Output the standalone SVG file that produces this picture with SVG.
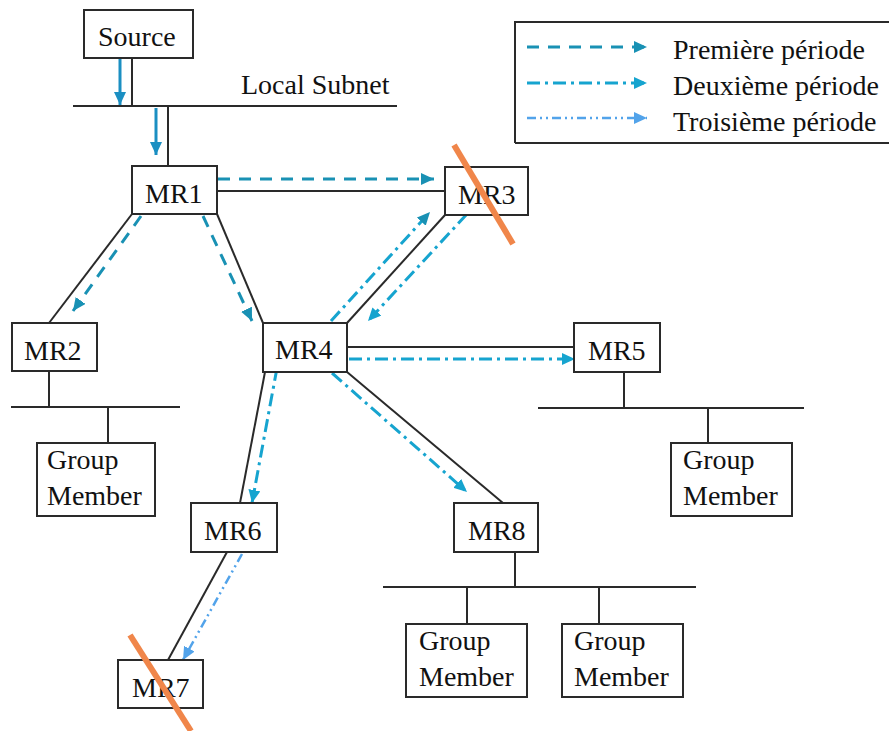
<svg xmlns="http://www.w3.org/2000/svg" width="889" height="731" viewBox="0 0 889 731" font-family="'Liberation Serif', 'DejaVu Serif', 'Times New Roman', serif">
  <style>
    text { font-family: 'Liberation Serif', 'DejaVu Serif', 'Times New Roman', serif; font-size: 28px; fill: #111; }
    .box { fill: #fff; stroke: #2a2a2a; stroke-width: 2; }
    .wire { stroke: #2a2a2a; stroke-width: 2; fill: none; }
    .p1 { stroke: #1991b4; stroke-width: 3; fill: none; stroke-dasharray: 12 9; }
    .p2 { stroke: #16a4cf; stroke-width: 3; fill: none; stroke-dasharray: 13 5 3 5; }
    .p3 { stroke: #52a3ea; stroke-width: 2.5; fill: none; stroke-dasharray: 9 4 2 4 2 4; }
    .src { stroke: #1b8fc2; stroke-width: 3; fill: none; }
    .cross { stroke: #f0864a; stroke-width: 6; stroke-linecap: butt; }
  </style>
  <defs>
    <marker id="ah1" markerUnits="userSpaceOnUse" markerWidth="14" markerHeight="12" refX="13" refY="6" orient="auto">
      <path d="M0,0 L13,6 L0,12 z" fill="#1991b4"/>
    </marker>
    <marker id="ah2" markerUnits="userSpaceOnUse" markerWidth="14" markerHeight="12" refX="13" refY="6" orient="auto">
      <path d="M0,0 L13,6 L0,12 z" fill="#16a4cf"/>
    </marker>
    <marker id="ah3" markerUnits="userSpaceOnUse" markerWidth="14" markerHeight="12" refX="13" refY="6" orient="auto">
      <path d="M0,0 L13,6 L0,12 z" fill="#52a3ea"/>
    </marker>
    <marker id="ahs" markerUnits="userSpaceOnUse" markerWidth="14" markerHeight="12" refX="13" refY="6" orient="auto">
      <path d="M0,0 L13,6 L0,12 z" fill="#1b8fc2"/>
    </marker>
  </defs>

  <rect width="889" height="731" fill="#fff"/>

  <!-- legend -->
  <g id="legend">
    <path d="M515,143 L515,22 L889,22 M515,143 L889,143" class="wire" stroke-width="2.5"/>
    <line x1="527" y1="47" x2="647" y2="47" class="p1" marker-end="url(#ah1)"/>
    <line x1="527" y1="83" x2="647" y2="83" class="p2" marker-end="url(#ah2)"/>
    <line x1="527" y1="118" x2="647" y2="118" class="p3" marker-end="url(#ah3)"/>
    <text x="673" y="59">Première période</text>
    <text x="673" y="95">Deuxième période</text>
    <text x="673" y="131">Troisième période</text>
  </g>

  <!-- wiring: links, subnets and traffic flows -->
  <g id="connectors">
    <!-- local subnet -->
    <line x1="73" y1="106" x2="397" y2="106" class="wire"/>
    <line x1="132" y1="58" x2="132" y2="106" class="wire"/>
    <line x1="168" y1="106" x2="168" y2="166" class="wire"/>
    <line x1="120" y1="58" x2="120" y2="105" class="src" marker-end="url(#ahs)"/>
    <line x1="156" y1="108" x2="156" y2="155" class="src" marker-end="url(#ahs)"/>

    <!-- router links -->
    <line x1="217" y1="191" x2="445" y2="191" class="wire"/>
    <line x1="132" y1="214" x2="49" y2="323" class="wire"/>
    <line x1="217" y1="214" x2="263" y2="323" class="wire"/>
    <line x1="347" y1="323" x2="445" y2="215" class="wire"/>
    <line x1="347" y1="347" x2="574" y2="347" class="wire"/>
    <line x1="265" y1="372" x2="240" y2="503" class="wire"/>
    <line x1="347" y1="372" x2="503" y2="503" class="wire"/>
    <line x1="227" y1="552" x2="168" y2="660" class="wire"/>

    <!-- MR2 subnet -->
    <line x1="49" y1="371" x2="49" y2="407" class="wire"/>
    <line x1="11" y1="407" x2="180" y2="407" class="wire"/>
    <line x1="108" y1="407" x2="108" y2="443" class="wire"/>

    <!-- MR5 subnet -->
    <line x1="624" y1="372" x2="624" y2="408" class="wire"/>
    <line x1="538" y1="408" x2="804" y2="408" class="wire"/>
    <line x1="708" y1="408" x2="708" y2="443" class="wire"/>

    <!-- MR8 subnet -->
    <line x1="515" y1="552" x2="515" y2="587" class="wire"/>
    <line x1="383" y1="587" x2="696" y2="587" class="wire"/>
    <line x1="467" y1="587" x2="467" y2="624" class="wire"/>
    <line x1="599" y1="587" x2="599" y2="624" class="wire"/>

    <!-- first period -->
    <line x1="218" y1="179" x2="434" y2="179" class="p1" marker-end="url(#ah1)"/>
    <line x1="141" y1="216" x2="73" y2="311" class="p1" marker-end="url(#ah1)"/>
    <line x1="203" y1="216" x2="252" y2="321" class="p1" marker-end="url(#ah1)"/>

    <!-- second period -->
    <line x1="331" y1="321" x2="430" y2="212" class="p2" marker-end="url(#ah1)" stroke="#1790b8"/>
    <line x1="467" y1="214" x2="368" y2="321" class="p2" marker-end="url(#ah2)"/>
    <line x1="349" y1="359" x2="575" y2="359" class="p2" marker-end="url(#ah2)"/>
    <line x1="277" y1="368" x2="252" y2="503" class="p2" marker-end="url(#ah2)"/>
    <line x1="332" y1="373" x2="467" y2="492" class="p2" marker-end="url(#ah2)"/>

    <!-- third period -->
    <line x1="242" y1="554" x2="183" y2="660" class="p3" marker-end="url(#ah3)"/>
  </g>

  <!-- routers and hosts -->
  <g id="source">
    <rect x="84" y="10" width="109" height="48" class="box"/>
    <text x="98" y="46">Source</text>
  </g>
  <g id="local-subnet">
    <text x="241" y="94">Local Subnet</text>
  </g>
  <g id="mr1">
    <rect x="132" y="166" width="85" height="48" class="box"/>
    <text x="145" y="203">MR1</text>
  </g>
  <g id="mr2">
    <rect x="12" y="323" width="85" height="48" class="box"/>
    <text x="24" y="360">MR2</text>
  </g>
  <g id="mr3">
    <rect x="445" y="167" width="83" height="48" class="box"/>
    <text x="458" y="204">MR3</text>
  </g>
  <g id="mr4">
    <rect x="263" y="323" width="84" height="49" class="box"/>
    <text x="275" y="359">MR4</text>
  </g>
  <g id="mr5">
    <rect x="574" y="323" width="86" height="49" class="box"/>
    <text x="588" y="360">MR5</text>
  </g>
  <g id="mr6">
    <rect x="191" y="503" width="86" height="49" class="box"/>
    <text x="204" y="540">MR6</text>
  </g>
  <g id="mr7">
    <rect x="118" y="660" width="85" height="48" class="box"/>
    <text x="132" y="697">MR7</text>
  </g>
  <g id="mr8">
    <rect x="454" y="503" width="84" height="49" class="box"/>
    <text x="468" y="540">MR8</text>
  </g>
  <g id="gm-mr2">
    <rect x="37" y="443" width="118" height="73" class="box"/>
    <text x="47" y="469">Group</text>
    <text x="47" y="505">Member</text>
  </g>
  <g id="gm-mr5">
    <rect x="671" y="443" width="121" height="73" class="box"/>
    <text x="683" y="469">Group</text>
    <text x="683" y="505">Member</text>
  </g>
  <g id="gm-mr8-a">
    <rect x="406" y="624" width="121" height="73" class="box"/>
    <text x="419" y="650">Group</text>
    <text x="419" y="686">Member</text>
  </g>
  <g id="gm-mr8-b">
    <rect x="562" y="624" width="121" height="73" class="box"/>
    <text x="574" y="650">Group</text>
    <text x="574" y="686">Member</text>
  </g>

  <!-- failed routers -->
  <g id="failures">
    <line x1="454" y1="145" x2="513" y2="244" class="cross"/>
    <line x1="130" y1="635" x2="191" y2="731" class="cross"/>
  </g>
</svg>
